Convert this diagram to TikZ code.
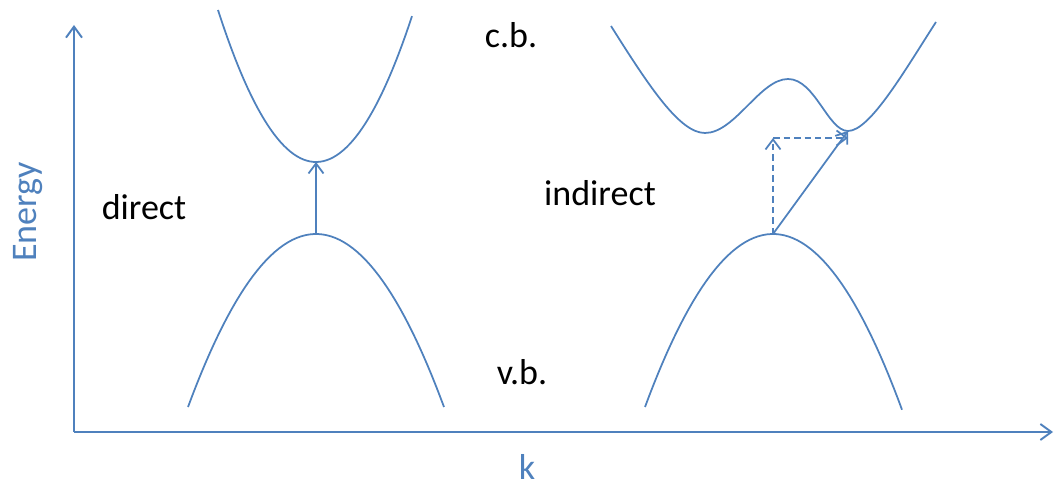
\documentclass[tikz,border=0pt]{standalone}
\usepackage{fontspec}
\setmainfont{Carlito}
\usetikzlibrary{arrows.meta}
\definecolor{band}{HTML}{4F81BD}

\begin{document}
\begin{tikzpicture}[x=0.02cm, y=-0.02cm,
  axis/.style={draw=band, line width=1.1pt, -{Straight Barb[length=2.2mm, width=3.2mm]}},
  curve/.style={draw=band, line width=1pt},
  trans/.style={draw=band, line width=1pt, -{Straight Barb[length=2mm, width=3mm]}},
  phonon/.style={trans, dash pattern=on 1.3mm off 0.8mm},
  lbl/.style={font=\fontsize{20.5}{24}\selectfont, inner sep=1pt},
  axlbl/.style={lbl, text=band}
]
  \useasboundingbox (0,0) rectangle (1055,486);

  % axes
  \coordinate (O) at (74,432);
  \coordinate (Etop) at (74,25);
  \coordinate (kend) at (1053,432);
  \draw[axis] (O) -- (Etop);
  \draw[axis] (O) -- (kend);
  \node[axlbl, rotate=90] (Elbl) at (28,212) {Energy};
  \node[axlbl] (klbl) at (527,467) {k};

  % direct gap
  \coordinate (cbL) at (316,162);
  \coordinate (vbL) at (316,234);
  \draw[curve] plot[domain=218:412, samples=60] (\x, {162-152*((\x-316)/98)^2});
  \draw[curve] plot[domain=188:444, samples=60] (\x, {234+173*((\x-316)/128)^2});
  \draw[trans] (vbL) -- (cbL);
  \node[lbl] (direct) at (144,207) {direct};

  % indirect gap
  \coordinate (cbR) at (848,131);
  \coordinate (vbR) at (773,234);
  \coordinate (kink) at (773,138);
  \draw[curve] (611,26) .. controls (650,88) and (680,133) .. (705,133)
    .. controls (735,133) and (760,79) .. (788,79)
    .. controls (815,79) and (828,131) .. (cbR)
    .. controls (870,131) and (905,70) .. (936,22);
  \draw[curve] plot[domain=645:902, samples=60] (\x, {234+173*((\x-773)/128)^2});
  \draw[phonon] (vbR) -- (kink);
  \draw[phonon] (kink) -- (kink -| cbR);
  \draw[trans] (vbR) -- (cbR);
  \node[lbl] (indirect) at (600,193) {indirect};

  % band labels
  \node[lbl] (cb) at (511,35) {c.b.};
  \node[lbl] (vb) at (522,372) {v.b.};
\end{tikzpicture}
\end{document}
